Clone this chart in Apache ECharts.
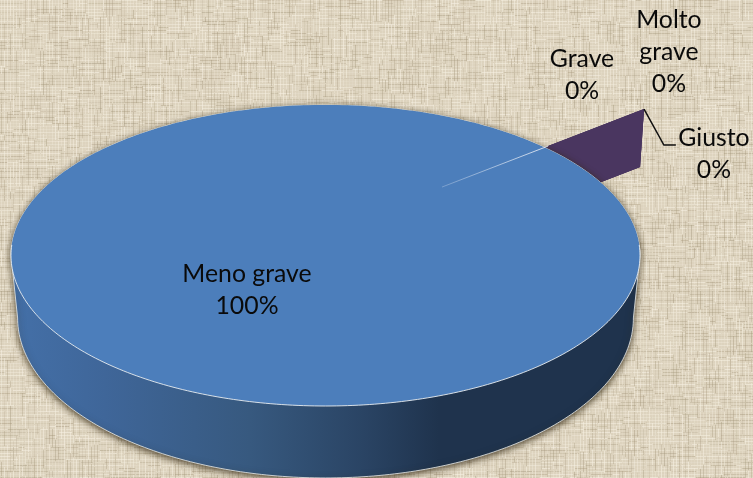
<!DOCTYPE html>
<html>
<head>
<meta charset="utf-8">
<style>
  html, body { margin: 0; padding: 0; background: #e2d8c4; }
  #chart { width: 753px; height: 478px; }
</style>
<script src="https://cdn.jsdelivr.net/npm/echarts@6/dist/echarts.min.js"></script>
</head>
<body>
<div id="chart"></div>
<script>
const sliceNames = ['Meno grave', 'Giusto', 'Grave', 'Molto\ngrave']
const sliceValues = [100, 0, 0, 0]

// Excel-style 3D pie, in unit-ellipse axis space (top face spans -1..1 on both axes)
const startAngle = 38.9
const centerLift = 0.156 // perspective: the pie centre sits above the ellipse centre
const explodeRadius = 1.3015
const seamFrom = 0.476
const seamTo = 0.9096
const wallDrop = [-0.0127, -0.385]
const baseEllipse = {cy: -0.415, rx: 0.979, ry: 1.063}
const labelAnchors = [[-0.2496, -0.229], [1.235, 0.674], [0.8156, 1.199], [1.092, 1.352]]
const leaderElbow = [[1.076, 0.734], [1.114, 0.734]]
const sliceColors = ['#4c7ebb', '#4a3660', '#4a3660', '#4a3660']

// 切片的累计角度
const sliceAngles = sliceValues.reduce((acc, v) => {
  acc.push(acc[acc.length - 1] - v / 100 * 360)
  return acc
}, [startAngle])

const radial = (deg, r) => {
  const a = deg * Math.PI / 180
  return [r * Math.cos(a), centerLift + r * Math.sin(a)]
}

const arcPoints = (api, cy, rx, ry, from, to) => {
  const pts = []
  const step = from < to ? 1 : -1
  for (let d = from; d !== to + step; d += step) {
    const a = d * Math.PI / 180
    pts.push(api.coord([rx * Math.cos(a), cy + ry * Math.sin(a)]))
  }
  return pts
}

// 麻布背景，用确定性的散列画纹理；先画线再整体模糊一次
const makeBurlap = () => {
  const w = 753
  const h = 478
  const pitch = 3
  const raw = document.createElement('canvas')
  raw.width = w
  raw.height = h
  const ctx = raw.getContext('2d')
  ctx.fillStyle = '#ddd3be'
  ctx.fillRect(0, 0, w, h)
  let seed = 11
  const next = () => {
    seed = (Math.imul(seed, 1103515245) + 12345) & 0x7fffffff
    return (seed >>> 8) / 0x7fffff
  }
  const thread = (x, y, len, horizontal) => {
    const dark = next() > 0.62
    ctx.fillStyle = dark ? `rgba(160,146,118,${0.1 + next() * 0.3})` : `rgba(246,240,226,${0.1 + next() * 0.5})`
    if (horizontal) ctx.fillRect(x, y, len, 1)
    else ctx.fillRect(x, y, 1, len)
  }
  for (let y = 0; y < h; y += pitch) {
    for (let x = 0; x < w;) {
      const len = 5 + Math.floor(next() * 22)
      thread(x, y, len, true)
      x += len + 1
    }
  }
  for (let x = 1; x < w; x += pitch) {
    for (let y = 0; y < h;) {
      const len = 5 + Math.floor(next() * 22)
      thread(x, y, len, false)
      y += len + 1
    }
  }
  const cv = document.createElement('canvas')
  cv.width = w
  cv.height = h
  const out = cv.getContext('2d')
  out.drawImage(raw, 0, 0)
  out.filter = 'blur(0.6px)'
  out.drawImage(raw, 0, 0)
  return cv
}

const renderWall = (params, api) => {
  const i = api.value(0)
  const deg = sliceAngles[i + 1]
  const tip = radial(deg, explodeRadius)
  const center = radial(deg, 0)
  const drop = p => [p[0] + wallDrop[0], p[1] + wallDrop[1]]
  return {
    type: 'polygon',
    shape: {points: [center, tip, drop(tip), drop(center)].map(p => api.coord(p))},
    style: {fill: sliceColors[i]}
  }
}

const renderBody = (params, api) => {
  const side = arcPoints(api, baseEllipse.cy, baseEllipse.rx, baseEllipse.ry, 180, 360)
    .concat(arcPoints(api, 0, 1, 1, 0, 180))
  const rim = arcPoints(api, 0, 1, 1, 360, 0)
  const lowerRim = arcPoints(api, 0, 1, 1, 176, 364)
  const seamA = api.coord(radial(startAngle, seamFrom))
  const seamB = api.coord(radial(startAngle, seamTo))
  return {
    type: 'group',
    children: [
      {
        type: 'polygon',
        shape: {points: side},
        style: {
          fill: new echarts.graphic.LinearGradient(0, 0, 1, 0, [
            {offset: 0, color: '#4470a8'},
            {offset: 0.15, color: '#3f6699'},
            {offset: 0.38, color: '#37597f'},
            {offset: 0.56, color: '#2a4464'},
            {offset: 0.68, color: '#1f334d'},
            {offset: 1, color: '#1f334d'}
          ]),
          stroke: 'rgba(225,228,228,0.85)',
          lineWidth: 1,
          shadowColor: 'rgba(50,38,15,0.85)',
          shadowBlur: 7,
          shadowOffsetY: 2
        }
      },
      {type: 'polygon', shape: {points: rim}, style: {fill: sliceColors[0]}},
      {
        type: 'polyline',
        shape: {points: lowerRim},
        style: {fill: 'none', stroke: 'rgba(232,236,240,0.9)', lineWidth: 1}
      },
      {
        type: 'line',
        shape: {x1: seamA[0], y1: seamA[1], x2: seamB[0], y2: seamB[1]},
        style: {
          lineWidth: 1,
          stroke: new echarts.graphic.LinearGradient(0, 0, 1, 0, [
            {offset: 0, color: 'rgba(200,215,235,0.35)'},
            {offset: 1, color: 'rgba(225,232,242,0.95)'}
          ])
        }
      }
    ]
  }
}

const renderLabel = (params, api) => {
  const i = api.value(0)
  const pos = api.coord(labelAnchors[i])
  return {
    type: 'text',
    x: pos[0],
    y: pos[1],
    style: {
      text: sliceNames[i] + '\n' + sliceValues[i] + '%',
      font: '24.8px Lato, "Noto Sans", sans-serif',
      lineHeight: 32,
      fill: '#0a0a0a',
      align: 'center',
      verticalAlign: 'middle'
    }
  }
}

const renderLeader = (params, api) => {
  const tip = radial(sliceAngles[sliceAngles.length - 1], explodeRadius)
  return {
    type: 'polyline',
    shape: {points: [tip].concat(leaderElbow).map(p => api.coord(p))},
    style: {fill: 'none', stroke: '#111111', lineWidth: 1.5}
  }
}

const chart = echarts.init(document.getElementById('chart'))
const sliceIndex = sliceNames.map((_, i) => [i])
chart.setOption({
  animation: false,
  backgroundColor: {image: makeBurlap(), repeat: 'no-repeat'},
  grid: {left: 11, right: 113, top: 105, bottom: 72},
  xAxis: {type: 'value', min: -1, max: 1, show: false},
  yAxis: {type: 'value', min: -1, max: 1, show: false},
  series: [
    {type: 'custom', name: 'zero slices', z: 1, clip: false, silent: true, renderItem: renderWall, data: sliceIndex.slice(1)},
    {type: 'custom', name: sliceNames[0], z: 2, clip: false, silent: true, renderItem: renderBody, data: [[0]]},
    {type: 'custom', name: 'leader', z: 3, clip: false, silent: true, renderItem: renderLeader, data: [[0]]},
    {type: 'custom', name: 'labels', z: 4, clip: false, silent: true, renderItem: renderLabel, data: sliceIndex}
  ]
})
</script>
</body>
</html>
